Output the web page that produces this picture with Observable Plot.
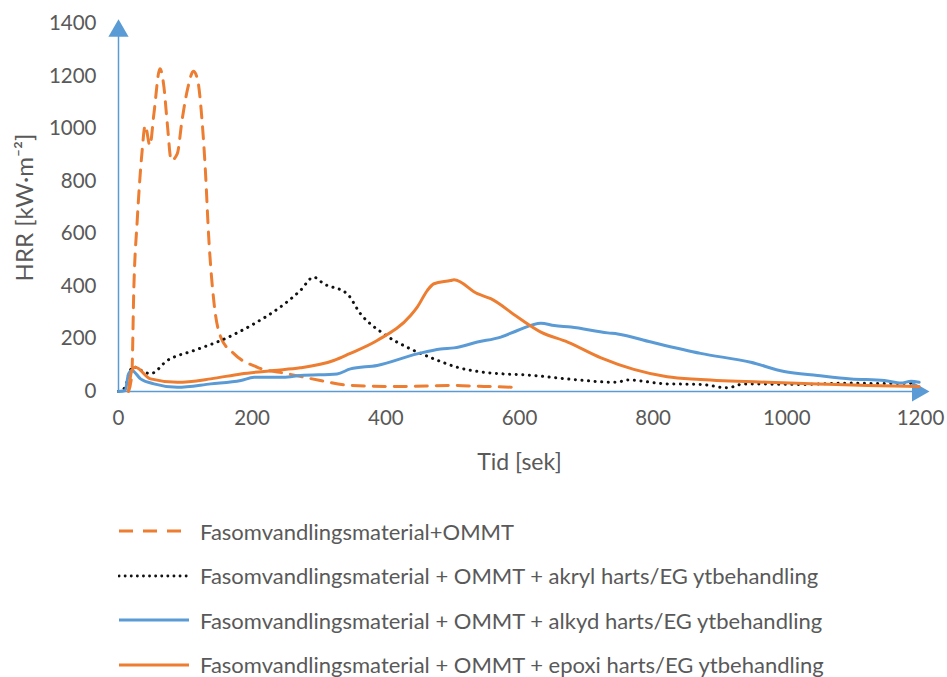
<!DOCTYPE html>
<html>
<head>
<meta charset="utf-8">
<script src="https://cdn.jsdelivr.net/npm/d3@7"></script>
<script src="https://cdn.jsdelivr.net/npm/@observablehq/plot@0.6"></script>
<style>
  body { margin: 0; background: #fff; font-family: Lato, "Open Sans", sans-serif; }
  #legend { padding-left: 118px; padding-top: 19px; }
  .row { height: 44.5px; display: flex; align-items: center; color: #595959; font-size: 22px; }
  .row svg { margin-right: 10px; }
</style>
</head>
<body>
<div id="chart"></div>
<div id="legend"></div>
<script>
const seriesNames = [
  "Fasomvandlingsmaterial+OMMT",
  "Fasomvandlingsmaterial + OMMT + akryl harts/EG ytbehandling",
  "Fasomvandlingsmaterial + OMMT + alkyd harts/EG ytbehandling",
  "Fasomvandlingsmaterial + OMMT + epoxi harts/EG ytbehandling"
];
const xTicks = [0, 200, 400, 600, 800, 1000, 1200];
const yTicks = [0, 200, 400, 600, 800, 1000, 1200, 1400];

// Fasomvandlingsmaterial+OMMT (dashed orange)
const tOmmt = [15, 20, 23, 28, 35, 40, 47, 53, 62, 68, 73, 79, 88, 95, 104, 112, 118, 125, 130, 135, 143, 153, 173, 208, 252, 302, 347, 422, 497, 540, 591];
const vOmmt = [0, 67, 397, 650, 905, 1012, 936, 1057, 1228, 1158, 1019, 879, 905, 1031, 1158, 1218, 1190, 1031, 841, 587, 335, 207, 143, 92, 68, 42, 23, 19, 23, 20, 16];

// akryl (dotted black)
const tAkryl = [0, 10, 16, 22, 30, 48, 73, 113, 153, 203, 242, 272, 292, 307, 342, 362, 397, 437, 472, 507, 547, 621, 671, 746, 761, 821, 871, 911, 936, 1021, 1096, 1150, 1190];
const vAkryl = [0, 16, 70, 95, 85, 68, 118, 156, 194, 258, 321, 384, 435, 410, 372, 296, 219, 162, 124, 92, 73, 61, 48, 35, 44, 29, 27, 14, 29, 27, 32, 30, 32];

// alkyd (solid blue)
const tAlkyd = [0, 10, 15, 20, 33, 53, 88, 138, 183, 203, 247, 272, 327, 347, 387, 447, 482, 502, 537, 572, 597, 632, 652, 677, 732, 747, 797, 871, 946, 996, 1046, 1096, 1146, 1171, 1186, 1198];
const vAlkyd = [0, 4, 67, 80, 48, 29, 16, 29, 42, 54, 54, 61, 67, 86, 99, 143, 162, 166, 188, 207, 232, 260, 251, 245, 223, 219, 188, 145, 111, 76, 61, 48, 42, 32, 39, 35];

// epoxi (solid orange)
const tEpoxi = [15, 20, 25, 48, 88, 138, 183, 232, 272, 322, 345, 387, 437, 447, 462, 472, 497, 502, 537, 557, 597, 632, 672, 722, 771, 821, 871, 971, 1046, 1121, 1198];
const vEpoxi = [4, 80, 92, 48, 35, 48, 67, 80, 90, 118, 143, 194, 289, 321, 384, 410, 422, 425, 372, 353, 283, 226, 188, 128, 84, 56, 46, 35, 29, 23, 19];

const toRows = (ts, vs) => ts.map((t, i) => ({t, v: vs[i]}));
const dOmmt = toRows(tOmmt, vOmmt);
const dAkryl = toRows(tAkryl, vAkryl);
const dAlkyd = toRows(tAlkyd, vAlkyd);
const dEpoxi = toRows(tEpoxi, vEpoxi);

const orange = "#ed7d31", blue = "#5b9bd5", gray = "#595959";

const chart = Plot.plot({
  width: 947,
  height: 490,
  marginLeft: 118,
  marginRight: 27,
  marginTop: 23,
  marginBottom: 99,
  style: { fontFamily: "Lato, 'Open Sans', sans-serif", fontSize: "20.5px", color: gray, background: "#fff" },
  x: { domain: [0, 1200], ticks: xTicks, tickFormat: d => String(d), tickSize: 0, tickPadding: 19, label: null },
  y: { domain: [0, 1400], ticks: yTicks, tickFormat: d => String(d), tickSize: 0, tickPadding: 22, label: null },
  marks: [
    Plot.ruleY([0], { stroke: blue, strokeWidth: 1.5 }),
    Plot.ruleX([0], { stroke: blue, strokeWidth: 1.5, y1: 0, y2: 1360 }),
    Plot.dot([0], { x: 0, y: 1372, symbol: "triangle", r: 7.5, fill: blue, stroke: "none" }),
    Plot.dot([0], { x: 1196, y: 0, symbol: "triangle", r: 7.5, fill: blue, stroke: "none", rotate: 90 }),
    Plot.line(dOmmt, { x: "t", y: "v", stroke: orange, strokeWidth: 3, strokeDasharray: "12,9", curve: "monotone-x" }),
    Plot.line(dAkryl, { x: "t", y: "v", stroke: "#111", strokeWidth: 3, strokeDasharray: "0.1,6.5", strokeLinecap: "round", curve: "monotone-x" }),
    Plot.line(dAlkyd, { x: "t", y: "v", stroke: blue, strokeWidth: 3, curve: "monotone-x" }),
    Plot.line(dEpoxi, { x: "t", y: "v", stroke: orange, strokeWidth: 3, curve: "monotone-x" }),
    Plot.text(["Tid [sek]"], { frameAnchor: "bottom", dy: 71, lineAnchor: "middle", fontSize: 23, fill: gray }),
    Plot.text(["HRR [kW·m⁻²]"], { frameAnchor: "left", dx: -93, rotate: -90, textAnchor: "middle", lineAnchor: "middle", fontSize: 24, fill: gray })
  ]
});
document.getElementById("chart").appendChild(chart);

// Legend
const styles = [
  { stroke: orange, dash: "14,10", cap: "butt", w: 3 },
  { stroke: "#111", dash: "0.1,6", cap: "round", w: 2.8 },
  { stroke: blue, dash: null, cap: "butt", w: 3 },
  { stroke: orange, dash: null, cap: "butt", w: 3 }
];
const legend = d3.select("#legend");
seriesNames.forEach((name, i) => {
  const row = legend.append("div").attr("class", "row");
  const s = row.append("svg").attr("width", 72).attr("height", 10);
  s.append("line").attr("x1", 1).attr("x2", 71).attr("y1", 5).attr("y2", 5)
    .attr("stroke", styles[i].stroke).attr("stroke-width", styles[i].w)
    .attr("stroke-dasharray", styles[i].dash).attr("stroke-linecap", styles[i].cap);
  row.append("span").text(name);
});
</script>
</body>
</html>
